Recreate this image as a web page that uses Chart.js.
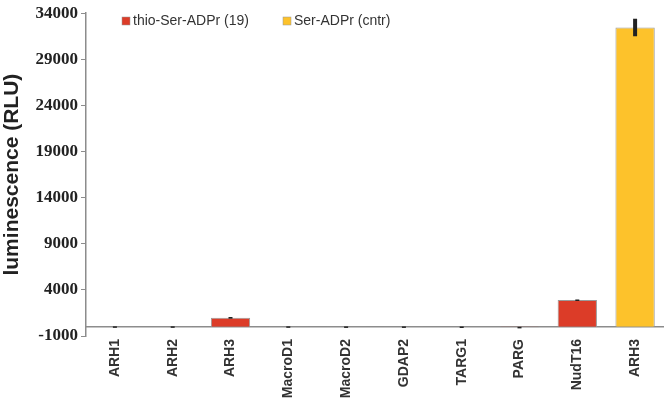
<!DOCTYPE html>
<html>
<head>
<meta charset="utf-8">
<script src="https://cdn.jsdelivr.net/npm/chart.js@4/dist/chart.umd.min.js"></script>
<style>
    html, body { margin: 0; padding: 0; background: #fff; }
    #wrap { width: 666px; height: 401px; }
</style>
</head>
<body>
<div id="wrap"><canvas id="lumChart"></canvas></div>
<script>
// values
const categories = ['ARH1', 'ARH2', 'ARH3', 'MacroD1', 'MacroD2', 'GDAP2', 'TARG1', 'PARG', 'NudT16', 'ARH3'];
const thioValues = [30, 30, 970, 30, 20, 20, 10, -40, 2900, null];
const thioErrors = [20, 20, 90, 20, 20, 20, 20, 30, 60, null];
const serValues = [null, null, null, null, null, null, null, null, null, 32450];
const serErrors = [null, null, null, null, null, null, null, null, null, 950];
const yTicks = [-1000, 4000, 9000, 14000, 19000, 24000, 29000, 34000];

const errorsByDataset = [thioErrors, serErrors];

// zero line + error bars + legend
const extrasPlugin = {
    id: 'extras',
    beforeDatasetsDraw(chart) {
        const { ctx, chartArea, scales } = chart;
        const y0 = scales.y.getPixelForValue(0);
        ctx.save();
        ctx.strokeStyle = '#8c8c8c';
        ctx.lineWidth = 1.5;
        ctx.beginPath();
        ctx.moveTo(chartArea.left, y0);
        ctx.lineTo(chartArea.right, y0);
        ctx.stroke();
        ctx.restore();
    },
    afterDatasetsDraw(chart) {
        const { ctx, scales } = chart;
        ctx.save();
        ctx.strokeStyle = '#222';
        chart.data.datasets.forEach((ds, di) => {
            const meta = chart.getDatasetMeta(di);
            const errs = errorsByDataset[di];
            meta.data.forEach((bar, i) => {
                const v = ds.data[i];
                if (v === null || errs[i] === null) return;
                const top = scales.y.getPixelForValue(v + errs[i]);
                const bot = scales.y.getPixelForValue(v - errs[i]);
                ctx.lineWidth = 4;
                ctx.beginPath();
                ctx.moveTo(bar.x, top);
                ctx.lineTo(bar.x, Math.max(bot, top + 1.5));
                ctx.stroke();
            });
        });
        ctx.restore();
    },
    afterDraw(chart) {
        // legend drawn by hand so it does not push the plot down
        const { ctx } = chart;
        const items = [
            { x: 122, ds: chart.data.datasets[0] },
            { x: 283, ds: chart.data.datasets[1] }
        ];
        ctx.save();
        ctx.font = '14px "Liberation Sans", Arial, sans-serif';
        ctx.textBaseline = 'middle';
        items.forEach(it => {
            ctx.fillStyle = it.ds.backgroundColor;
            ctx.fillRect(it.x, 17, 8, 8);
            ctx.strokeStyle = '#999';
            ctx.lineWidth = 0.5;
            ctx.strokeRect(it.x, 17, 8, 8);
            ctx.fillStyle = '#333';
            ctx.fillText(it.ds.label, it.x + 11, 21);
        });
        ctx.restore();
    }
};

new Chart(document.getElementById('lumChart'), {
    type: 'bar',
    data: {
        labels: categories,
        datasets: [{
            label: 'thio-Ser-ADPr (19)',
            data: thioValues,
            backgroundColor: '#dc3c28',
            borderColor: '#9a9a9a',
            borderWidth: 1,
            grouped: false,
            barPercentage: 0.68,
            categoryPercentage: 1
        }, {
            label: 'Ser-ADPr (cntr)',
            data: serValues,
            backgroundColor: '#fdc22b',
            borderColor: '#9a9a9a',
            borderWidth: 1,
            grouped: false,
            barPercentage: 0.68,
            categoryPercentage: 1
        }]
    },
    options: {
        responsive: true,
        maintainAspectRatio: false,
        animation: false,
        layout: { padding: { top: 8, right: 2, left: 0, bottom: 0 } },
        plugins: {
            legend: { display: false },
            tooltip: { enabled: false }
        },
        scales: {
            x: {
                grid: { display: false, drawTicks: false },
                border: { display: false },
                afterFit: scale => { scale.height = 65; },
                ticks: {
                    minRotation: 90,
                    maxRotation: 90,
                    autoSkip: false,
                    padding: 3,
                    color: '#333',
                    font: { family: '"Liberation Sans", Arial, sans-serif', size: 14, weight: 'bold' }
                }
            },
            y: {
                min: -1000,
                max: 34000,
                afterBuildTicks: scale => { scale.ticks = yTicks.map(v => ({ value: v })); },
                afterFit: scale => { scale.width = 86; },
                grid: { drawOnChartArea: false, tickLength: 5, color: '#8c8c8c' },
                border: { color: '#8c8c8c', width: 1.5 },
                ticks: {
                    padding: 3,
                    color: '#222',
                    callback: v => String(v),
                    font: { family: '"Liberation Serif", "Times New Roman", serif', size: 17, weight: 'bold' }
                },
                title: {
                    display: true,
                    text: 'luminescence (RLU)',
                    color: '#222',
                    padding: { top: 0, bottom: 4 },
                    font: { family: '"Liberation Sans", Arial, sans-serif', size: 21, weight: 'bold' }
                }
            }
        }
    },
    plugins: [extrasPlugin]
});
</script>
</body>
</html>
